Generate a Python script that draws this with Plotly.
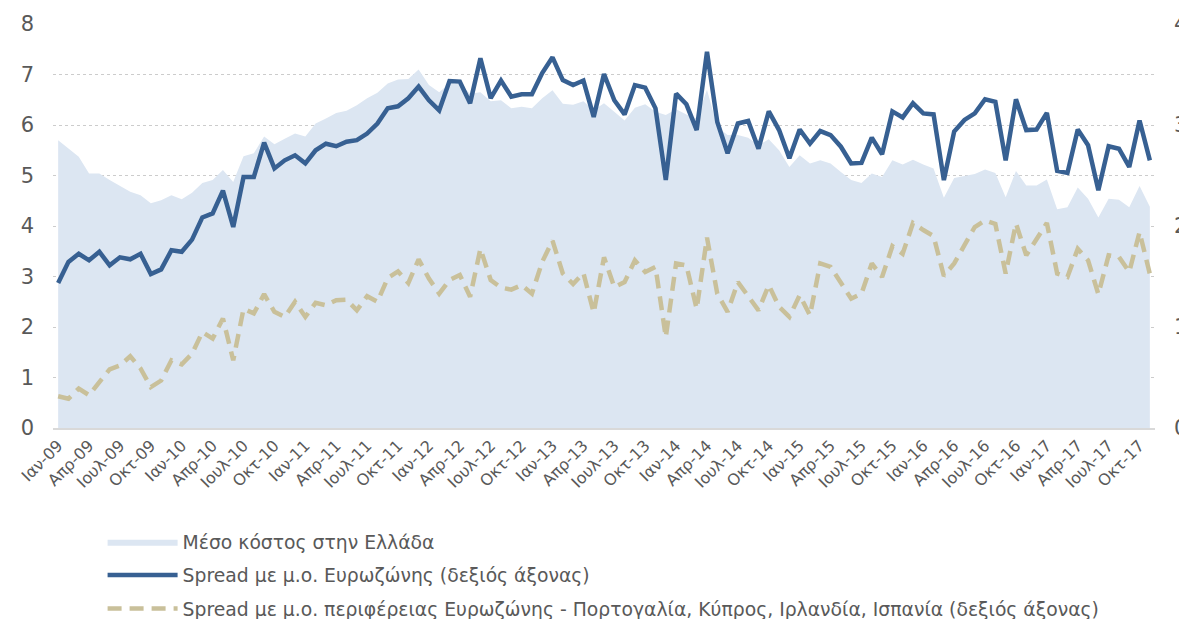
import plotly.graph_objects as go

months_gr = ["Ιαν", "Φεβ", "Μαρ", "Απρ", "Μαϊ", "Ιουν", "Ιουλ", "Αυγ", "Σεπ", "Οκτ", "Νοε", "Δεκ"]
month_labels = ["%s-%02d" % (months_gr[i % 12], 9 + i // 12) for i in range(107)]
tick_positions = list(range(0, 107, 3))
tick_labels = [month_labels[i] for i in tick_positions]

greek_avg_cost = [
    5.70, 5.53, 5.37, 5.04, 5.04, 4.91, 4.79, 4.68, 4.61, 4.45,
    4.51, 4.61, 4.53, 4.66, 4.85, 4.91, 5.11, 4.87, 5.38, 5.44,
    5.77, 5.62, 5.73, 5.83, 5.77, 6.03, 6.13, 6.24, 6.28, 6.39,
    6.53, 6.64, 6.82, 6.90, 6.91, 7.10, 6.79, 6.65, 6.82, 6.82,
    6.62, 6.65, 6.47, 6.49, 6.33, 6.36, 6.33, 6.53, 6.69, 6.42,
    6.40, 6.47, 6.29, 6.43, 6.26, 6.09, 6.34, 6.41, 6.26, 6.20,
    6.31, 6.21, 6.13, 6.70, 5.96, 5.80, 5.80, 5.75, 5.60, 5.72,
    5.50, 5.17, 5.40, 5.24, 5.30, 5.24, 5.07, 4.91, 4.85, 5.04,
    4.97, 5.30, 5.22, 5.31, 5.22, 5.14, 4.56, 4.95, 4.99, 5.03,
    5.12, 5.05, 4.57, 5.09, 4.80, 4.80, 4.92, 4.33, 4.37, 4.76,
    4.54, 4.17, 4.54, 4.52, 4.37, 4.79, 4.38,
]

spread_ez_x2 = [
    2.87, 3.29, 3.45, 3.32, 3.49, 3.22, 3.38, 3.34, 3.45, 3.05,
    3.14, 3.52, 3.49, 3.73, 4.17, 4.25, 4.70, 3.98, 4.97, 4.97,
    5.65, 5.14, 5.30, 5.40, 5.24, 5.50, 5.63, 5.58, 5.67, 5.70,
    5.83, 6.03, 6.33, 6.37, 6.53, 6.76, 6.49, 6.29, 6.87, 6.86,
    6.43, 7.32, 6.53, 6.88, 6.56, 6.61, 6.61, 7.03, 7.34, 6.89,
    6.79, 6.88, 6.16, 7.01, 6.49, 6.21, 6.79, 6.74, 6.33, 4.91,
    6.62, 6.41, 5.90, 7.45, 6.06, 5.44, 6.03, 6.08, 5.53, 6.27,
    5.90, 5.34, 5.91, 5.63, 5.88, 5.80, 5.57, 5.24, 5.25, 5.75,
    5.42, 6.27, 6.15, 6.43, 6.23, 6.21, 4.91, 5.87, 6.10, 6.23,
    6.51, 6.46, 5.30, 6.51, 5.90, 5.91, 6.24, 5.09, 5.05, 5.91,
    5.60, 4.71, 5.58, 5.53, 5.17, 6.09, 5.30,
]

spread_periph_x2 = [
    0.63, 0.58, 0.78, 0.65, 0.91, 1.16, 1.24, 1.42, 1.18, 0.81,
    0.94, 1.34, 1.26, 1.47, 1.90, 1.77, 2.17, 1.34, 2.36, 2.27,
    2.65, 2.30, 2.20, 2.50, 2.20, 2.48, 2.43, 2.53, 2.54, 2.33,
    2.61, 2.50, 2.97, 3.10, 2.87, 3.34, 2.96, 2.66, 2.93, 3.03,
    2.60, 3.55, 2.93, 2.78, 2.74, 2.83, 2.66, 3.29, 3.71, 3.06,
    2.85, 3.07, 2.28, 3.38, 2.79, 2.89, 3.32, 3.09, 3.19, 1.80,
    3.26, 3.22, 2.36, 3.77, 2.66, 2.30, 2.89, 2.60, 2.33, 2.83,
    2.40, 2.20, 2.63, 2.23, 3.26, 3.19, 2.89, 2.56, 2.66, 3.26,
    2.99, 3.60, 3.45, 4.06, 3.92, 3.80, 3.01, 3.26, 3.62, 3.98,
    4.11, 4.04, 3.06, 4.05, 3.42, 3.75, 4.06, 3.06, 2.99, 3.55,
    3.32, 2.65, 3.42, 3.39, 3.09, 3.88, 3.05,
]

spread_ez = [v / 2 for v in spread_ez_x2]
spread_periph = [v / 2 for v in spread_periph_x2]
x = list(range(len(month_labels)))

FONT = "DejaVu Sans"
GREY = "#595959"

fig = go.Figure()
fig.add_trace(go.Scatter(
    x=x, y=greek_avg_cost, name="Μέσο κόστος στην Ελλάδα",
    mode="lines", fill="tozeroy", fillcolor="#dce6f2",
    line=dict(width=0, color="#dce6f2"), yaxis="y",
    legendgroup="a",
))
fig.add_trace(go.Scatter(
    x=x, y=spread_ez, name="Spread με μ.ο. Ευρωζώνης (δεξιός άξονας)",
    mode="lines", line=dict(color="#376092", width=4.5), yaxis="y2",
    legendgroup="b",
))
fig.add_trace(go.Scatter(
    x=x, y=spread_periph,
    name="Spread με μ.ο. περιφέρειας Ευρωζώνης - Πορτογαλία, Κύπρος, Ιρλανδία, Ισπανία (δεξιός άξονας)",
    mode="lines", line=dict(color="#c9c09a", width=4.5, dash="14px,8px"), yaxis="y2",
    legendgroup="c",
))

# The page body has an 8px default margin, so the figure is sized to fit the window.
fig.update_layout(
    width=1179, height=611,
    margin=dict(l=45, r=32, t=16, b=191, autoexpand=False),
    paper_bgcolor="white", plot_bgcolor="white",
    font=dict(family=FONT, color=GREY, size=16),
    showlegend=True,
    legend=dict(
        x=0.045, y=-0.235, xanchor="left", yanchor="top",
        font=dict(family=FONT, size=18.8, color=GREY),
        bgcolor="rgba(0,0,0,0)", itemwidth=70,
        traceorder="grouped", tracegroupgap=6,
    ),
    xaxis=dict(
        range=[-0.5, 106.5], tickmode="array", tickvals=tick_positions,
        ticktext=tick_labels, tickangle=-45, showgrid=False, zeroline=False,
        showline=True, linecolor="#d9d9d9", linewidth=2,
        tickfont=dict(family=FONT, size=16, color=GREY), ticks="",
        automargin=False,
    ),
    yaxis=dict(
        range=[0, 8], tickvals=list(range(0, 9)), showgrid=True,
        gridcolor="#cccccc", griddash="dot", gridwidth=1.3, zeroline=False,
        tickfont=dict(family=FONT, size=21, color=GREY),
        ticklabelstandoff=18, automargin=False,
    ),
    yaxis2=dict(
        range=[0, 4], tickvals=list(range(0, 5)), overlaying="y", side="right",
        showgrid=False, zeroline=False,
        tickfont=dict(family=FONT, size=21, color=GREY),
        ticklabelstandoff=18, automargin=False,
    ),
)

fig.write_html("out.html")
